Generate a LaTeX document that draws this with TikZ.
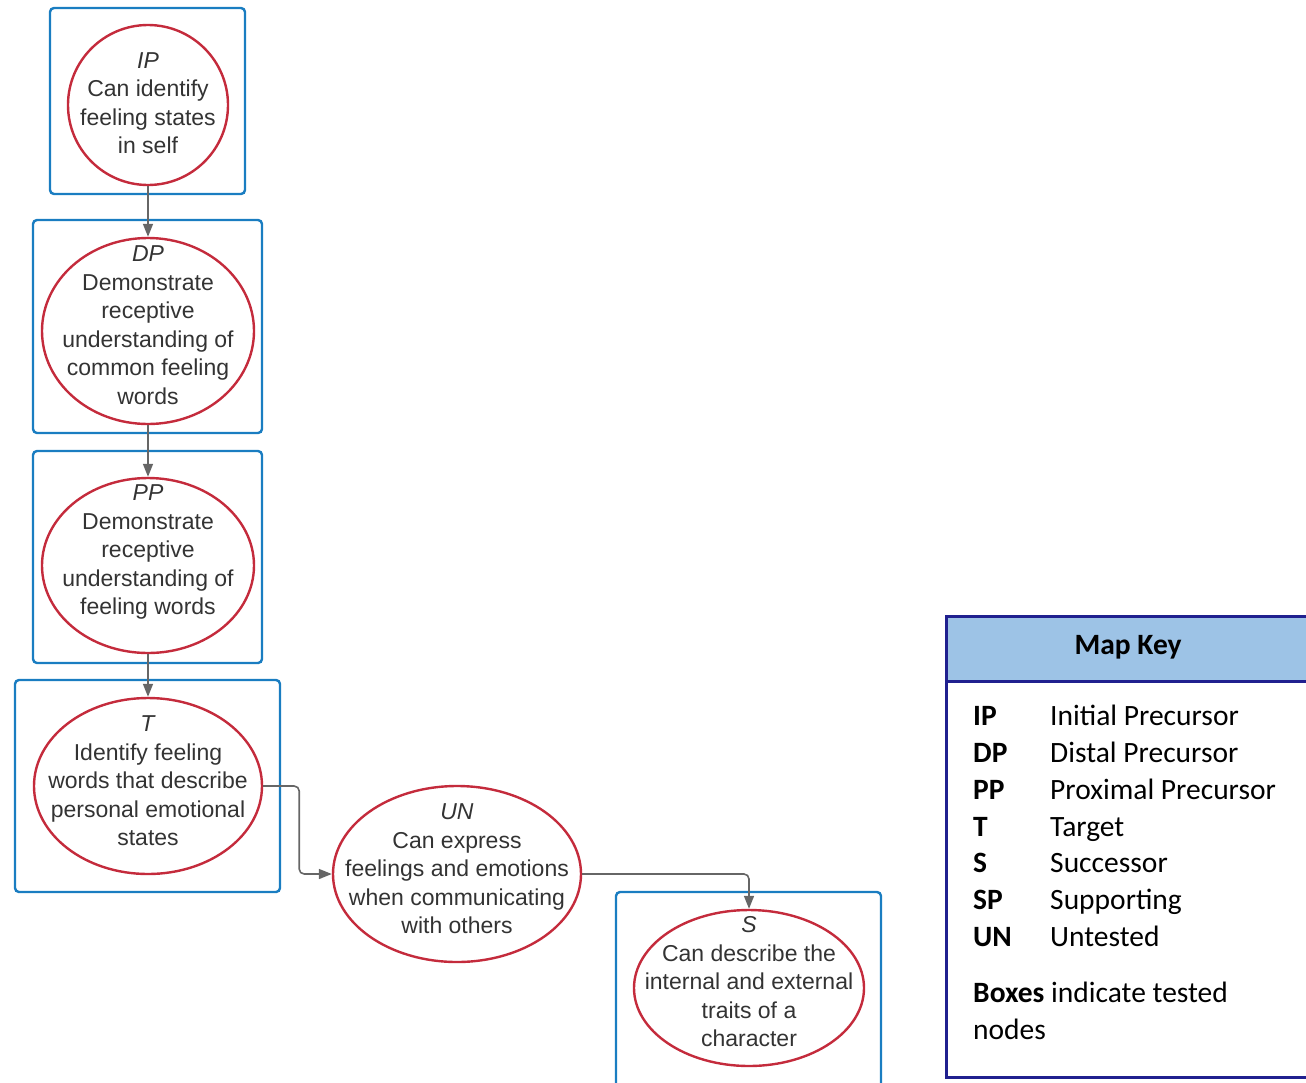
\documentclass[tikz,border=0pt]{standalone}
\usepackage{fontspec}
\setmainfont{Liberation Sans}
\newfontfamily\keyfont{Carlito}
\usetikzlibrary{shapes.geometric,arrows.meta}
\definecolor{boxblue}{HTML}{1A7DC1}
\definecolor{ellred}{HTML}{C42B3C}
\definecolor{txtgray}{HTML}{333333}
\definecolor{arrgray}{HTML}{666666}
\definecolor{keynavy}{HTML}{20208F}
\definecolor{keyhead}{HTML}{9DC3E6}
\tikzset{
  tbox/.style={draw=boxblue, line width=2.4pt, rounded corners=4pt, rectangle, inner sep=0pt},
  ell/.style={draw=ellred, line width=2.4pt, ellipse, inner sep=0pt},
  lbl/.style={font=\fontsize{23}{28.5}\selectfont, text=txtgray, align=center, inner sep=0pt},
  conn/.style={draw=arrgray, line width=1.6pt, rounded corners=5pt, -{Triangle[length=13pt,width=10pt]}},
  keyabbr/.style={font=\keyfont\bfseries\fontsize{29.5}{34}\selectfont, anchor=base west, inner sep=0pt},
  keytxt/.style={font=\keyfont\fontsize{29.5}{34}\selectfont, anchor=base west, inner sep=0pt},
}
\begin{document}
\begin{tikzpicture}[x=1pt,y=-1pt]
\useasboundingbox (0,0) rectangle (1306,1082);
\clip (0,0) rectangle (1306,1082);
% boxes
\node[tbox, minimum width=195pt, minimum height=186pt] (ipbox) at (147.5,101) {};
\node[tbox, minimum width=229pt, minimum height=213pt] (dpbox) at (147.5,326.5) {};
\node[tbox, minimum width=229pt, minimum height=212pt] (ppbox) at (147.5,557) {};
\node[tbox, minimum width=265pt, minimum height=212pt] (tbx) at (147.5,786) {};
\node[tbox, minimum width=265pt, minimum height=220pt] (sbox) at (748.5,1002) {};
% ellipses
\node[ell, minimum width=160pt, minimum height=160pt] (ip) at (148,105) {};
\node[ell, minimum width=212pt, minimum height=186pt] (dp) at (148,331) {};
\node[ell, minimum width=212pt, minimum height=175pt] (pp) at (148,565.5) {};
\node[ell, minimum width=228pt, minimum height=176pt] (t) at (148,786) {};
\node[ell, minimum width=248pt, minimum height=176pt] (un) at (457,874) {};
\node[ell, minimum width=230pt, minimum height=156pt] (s) at (749,988) {};
% labels
\node[lbl] (iptxt) at (148,103) {\textit{IP}\\Can identify\\feeling states\\in self};
\node[lbl] (dptxt) at (148,325) {\textit{DP}\\Demonstrate\\receptive\\understanding of\\common feeling\\words};
\node[lbl] (pptxt) at (148,552) {\textit{PP}\\Demonstrate\\receptive\\understanding of\\feeling words};
\node[lbl] (ttxt) at (148,781) {\textit{T}\\Identify feeling\\words that describe\\personal emotional\\states};
\node[lbl] (untxt) at (457,869) {\textit{UN}\\Can express\\feelings and emotions\\when communicating\\with others};
\node[lbl] (stxt) at (749,982) {\textit{S}\\Can describe the\\internal and external\\traits of a\\character};
% connectors
\draw[conn] (ip.south) -- (dp.north);
\draw[conn] (dp.south) -- (pp.north);
\draw[conn] (pp.south) -- (t.north);
\draw[conn] (t.east) -- ++(36,0) |- (un.west);
\draw[conn] (un.east) -| (s.north);
% key
\node[draw=keynavy, line width=2.6pt, fill=keyhead, rectangle, minimum width=380pt, minimum height=65pt, anchor=north west, inner sep=0pt] (keyhead) at (945,615) {};
\node[draw=keynavy, line width=2.6pt, rectangle, minimum width=380pt, minimum height=396pt, anchor=north west, inner sep=0pt] (keybody) at (945,680) {};
\node[font=\keyfont\bfseries\fontsize{29.5}{34}\selectfont, inner sep=0pt] (keytitle) at (1128,647) {Map Key};
\node[keyabbr] (k1) at (973,725) {IP};
\node[keytxt] (v1) at (1050,725) {Initial Precursor};
\node[keyabbr] (k2) at (973,762) {DP};
\node[keytxt] (v2) at (1050,762) {Distal Precursor};
\node[keyabbr] (k3) at (973,799) {PP};
\node[keytxt] (v3) at (1050,799) {Proximal Precursor};
\node[keyabbr] (k4) at (973,836) {T};
\node[keytxt] (v4) at (1050,836) {Target};
\node[keyabbr] (k5) at (973,872) {S};
\node[keytxt] (v5) at (1050,872) {Successor};
\node[keyabbr] (k6) at (973,909) {SP};
\node[keytxt] (v6) at (1050,909) {Supporting};
\node[keyabbr] (k7) at (973,946) {UN};
\node[keytxt] (v7) at (1050,946) {Untested};
\node[keytxt] (n1) at (973,1002) {\textbf{Boxes} indicate tested};
\node[keytxt] (n2) at (973,1039) {nodes};
\end{tikzpicture}
\end{document}
